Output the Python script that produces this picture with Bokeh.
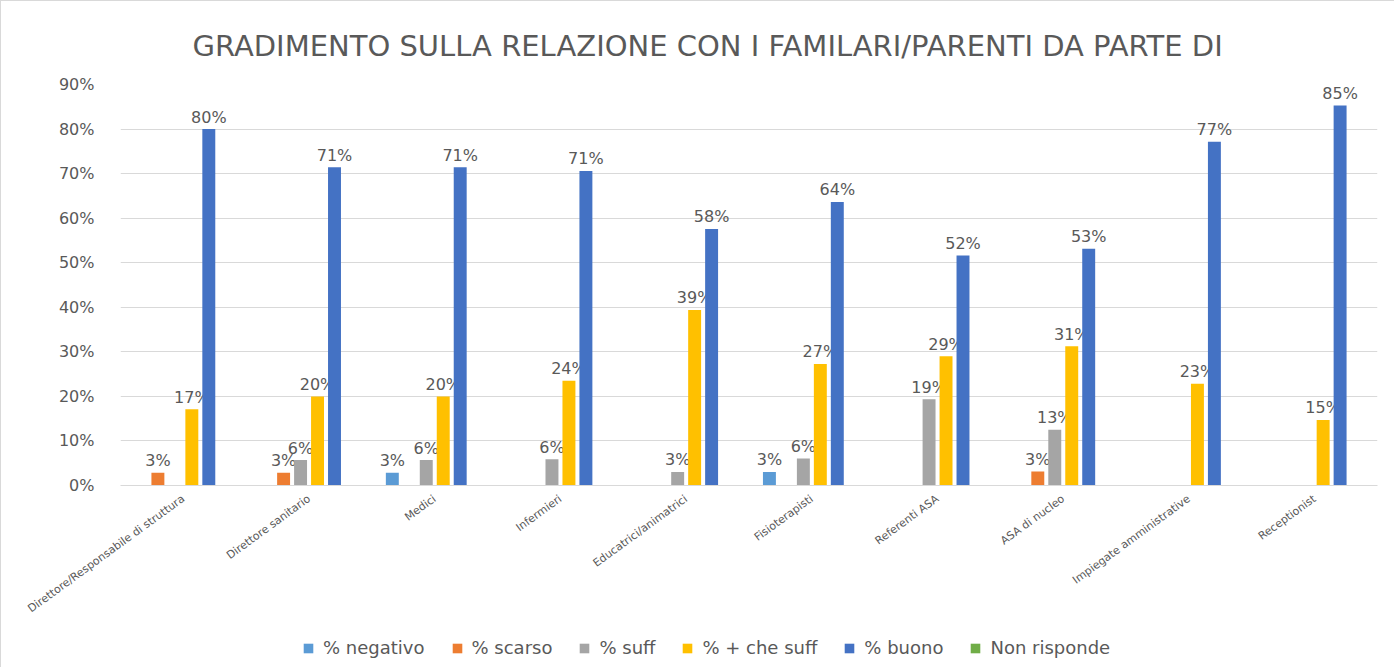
import math
from bokeh.plotting import figure
from bokeh.layouts import column
from bokeh.models import (ColumnDataSource, FactorRange, Range1d, Legend, LegendItem,
                          PrintfTickFormatter, FixedTicker)
from bokeh.transform import dodge
from bokeh.embed import file_html
from bokeh.resources import INLINE
from bokeh.core.properties import value

title_text = "GRADIMENTO SULLA RELAZIONE CON I FAMILARI/PARENTI DA PARTE DI"

categories = ["Direttore/Responsabile di struttura", "Direttore sanitario", "Medici",
              "Infermieri", "Educatrici/animatrici", "Fisioterapisti", "Referenti ASA",
              "ASA di nucleo", "Impiegate amministrative", "Receptionist"]

series_names = ["% negativo", "% scarso", "% suff", "% + che suff", "% buono", "Non risponde"]

negativo = [0, 0, 2.86, 0, 0, 3.03, 0, 0, 0, 0]
scarso = [2.86, 2.86, 0, 0, 0, 0, 0, 3.13, 0, 0]
suff = [0, 5.71, 5.71, 5.88, 3.03, 6.06, 19.35, 12.5, 0, 0]
piu_che_suff = [17.14, 20.0, 20.0, 23.53, 39.39, 27.27, 29.03, 31.25, 22.86, 14.71]
buono = [80.0, 71.43, 71.43, 70.59, 57.58, 63.64, 51.61, 53.13, 77.14, 85.29]
non_risponde = [0, 0, 0, 0, 0, 0, 0, 0, 0, 0]

colors = ["#5B9BD5", "#ED7D31", "#A5A5A5", "#FFC000", "#4472C4", "#70AD47"]
y_ticks = [0, 10, 20, 30, 40, 50, 60, 70, 80, 90]

FONT = "DejaVu Sans"
TXT = "#595959"

series = [negativo, scarso, suff, piu_che_suff, buono, non_risponde]
keys = ["neg", "sca", "suf", "piu", "buo", "non"]

data = {"cat": categories}
for k, s in zip(keys, series):
    data[k] = s
src = ColumnDataSource(data)

W = 1393
p = figure(x_range=FactorRange(factors=categories, range_padding=0),
           y_range=Range1d(0, 90),
           width=W, height=628, output_backend="svg", toolbar_location=None,
           min_border_left=119, min_border_right=17, min_border_top=83,
           min_border_bottom=144)
p.outline_line_color = None
p.background_fill_color = "white"
p.border_fill_color = "white"

p.title.text = title_text
p.title.align = "left"
p.title.offset = 72
p.title.standoff = 43
p.title.text_font = FONT
p.title.text_font_size = "29px"
p.title.text_font_style = "normal"
p.title.text_color = TXT

step = 0.135
bar_w = 0.103
for i, (k, col, s) in enumerate(zip(keys, colors, series)):
    off = (i - 2.5) * step
    p.vbar(x=dodge("cat", off, range=p.x_range), top=k, width=bar_w, source=src,
           fill_color=col, line_color=None)
    lc = [c for c, v in zip(categories, s) if v > 0]
    lv = [v for v in s if v > 0]
    lt = ["%d%%" % math.floor(v + 0.5) for v in lv]
    if lc:
        ls = ColumnDataSource(dict(cat=lc, v=lv, t=lt))
        p.text(x=dodge("cat", off, range=p.x_range), y="v", text="t", source=ls,
               text_align="center", text_baseline="alphabetic", y_offset=-12,
               text_font=value(FONT), text_font_size="16px", text_color=TXT)

# axes
p.yaxis.ticker = FixedTicker(ticks=y_ticks)
p.yaxis.formatter = PrintfTickFormatter(format="%d%%")
p.yaxis.axis_line_color = None
p.yaxis.major_tick_line_color = None
p.yaxis.minor_tick_line_color = None
p.yaxis.major_label_text_font = FONT
p.yaxis.major_label_text_font_size = "16px"
p.yaxis.major_label_text_color = TXT
p.yaxis.major_label_standoff = 20

p.xaxis.axis_line_color = "#d9d9d9"
p.xaxis.axis_line_width = 1
p.xaxis.major_tick_line_color = None
p.xaxis.minor_tick_line_color = None
p.xaxis.major_label_orientation = 0.63
p.xaxis.major_label_text_font = FONT
p.xaxis.major_label_text_font_size = "11px"
p.xaxis.major_label_text_color = TXT
p.xaxis.major_label_standoff = 6

p.xgrid.grid_line_color = None
p.ygrid.grid_line_color = "#d9d9d9"
p.ygrid.grid_line_width = 1

# legend strip: its own figure; swatches come from hidden proxy renderers
pl = figure(x_range=FactorRange(factors=categories), y_range=Range1d(0, 1),
            width=W, height=38, output_backend="svg", toolbar_location=None,
            title=None, x_axis_location=None, y_axis_location=None, min_border=0)
pl.outline_line_color = None
pl.xgrid.grid_line_color = None
pl.ygrid.grid_line_color = None
leg_renderers = []
for k, col in zip(keys, colors):
    r = pl.vbar(x="cat", top=k, width=bar_w, source=src,
                fill_color=col, line_color=None, visible=False)
    leg_renderers.append(r)

legend = Legend(items=[LegendItem(label=n, renderers=[r]) for n, r in zip(series_names, leg_renderers)],
                orientation="horizontal", location=(182, 9),
                glyph_width=12, glyph_height=12, label_standoff=9, spacing=26,
                padding=0, margin=0, border_line_color=None, background_fill_alpha=0,
                inactive_fill_alpha=0, click_policy="none",
                label_text_font=FONT, label_text_font_size="18px", label_text_color=TXT)
pl.add_layout(legend, "center")

layout = column(p, pl, spacing=0)
layout.styles = {"border-left": "1px solid #d9d9d9", "border-top": "1px solid #d9d9d9"}

open("out.html", "w").write(file_html(layout, INLINE))
